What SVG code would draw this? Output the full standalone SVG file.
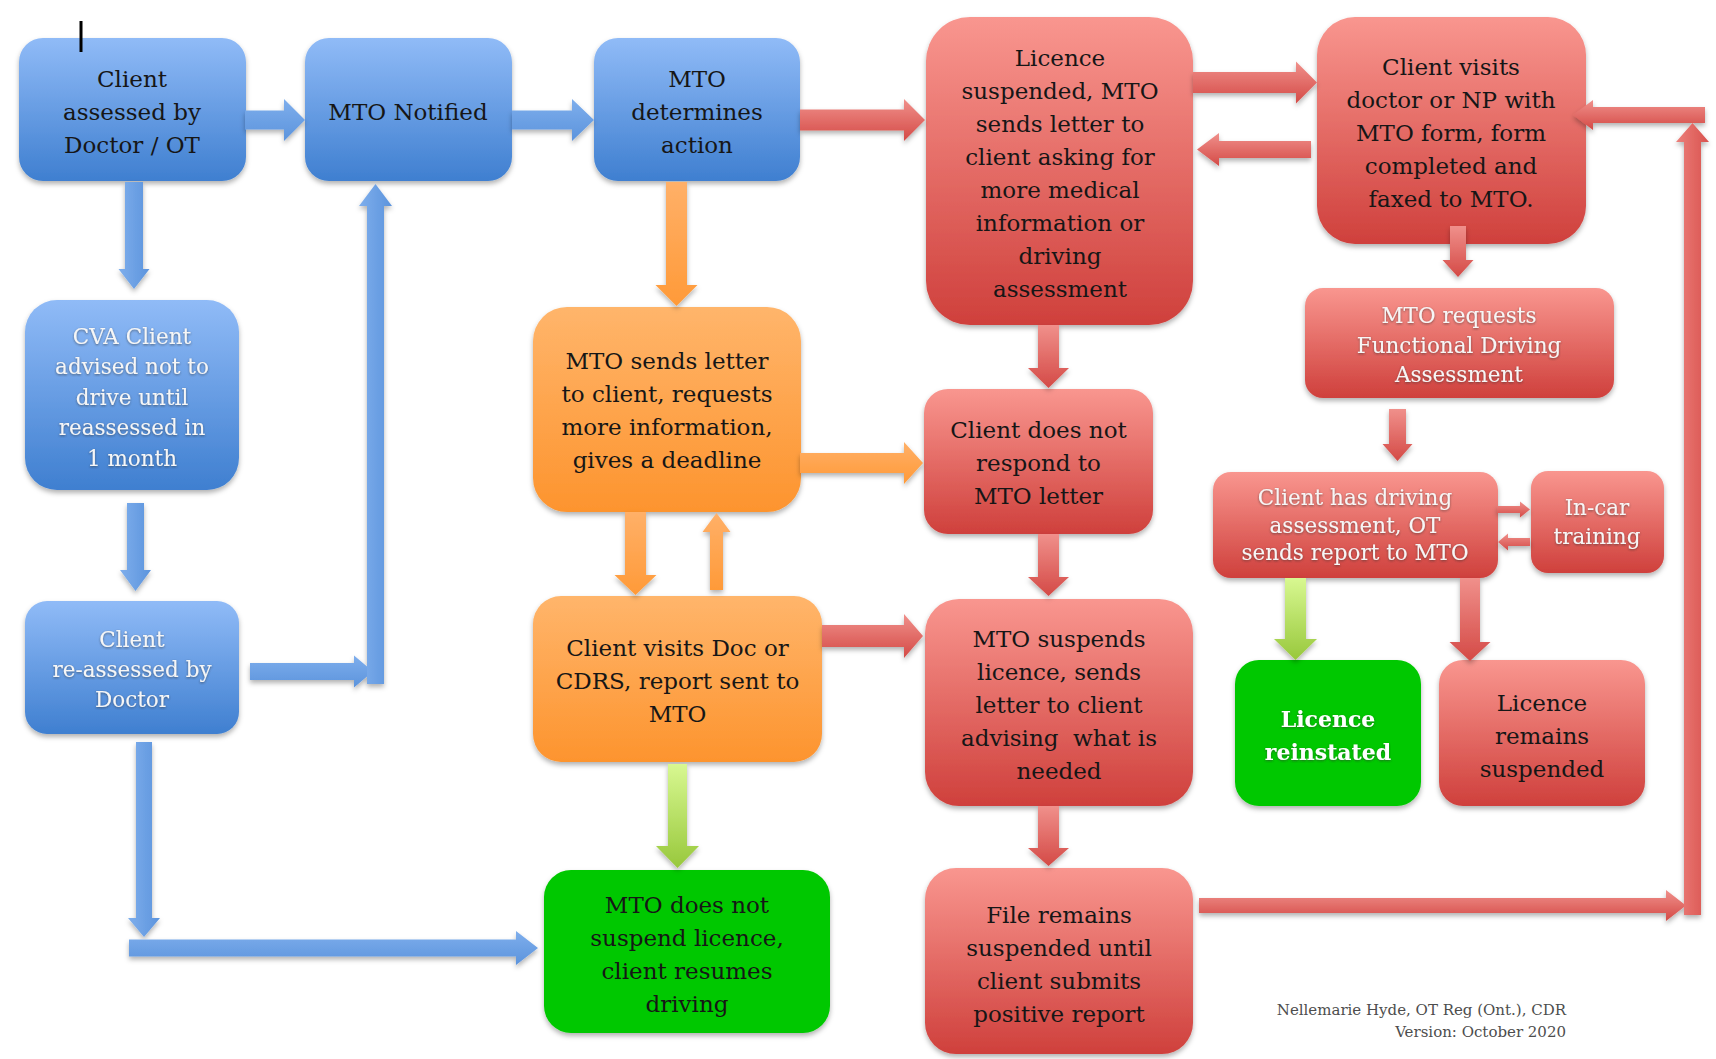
<svg xmlns="http://www.w3.org/2000/svg" width="1716" height="1059" viewBox="0 0 1716 1059">
<defs>
<linearGradient id="gBlue" x1="0" y1="0" x2="0" y2="1"><stop offset="0" stop-color="#90bbf7"/><stop offset="1" stop-color="#3f7fd0"/></linearGradient>
<linearGradient id="gRed" x1="0" y1="0" x2="0" y2="1"><stop offset="0" stop-color="#f9968f"/><stop offset="1" stop-color="#cf403c"/></linearGradient>
<linearGradient id="gOrange" x1="0" y1="0" x2="0" y2="1"><stop offset="0" stop-color="#ffb56b"/><stop offset="1" stop-color="#fd942e"/></linearGradient>
<linearGradient id="aBlue" x1="0" y1="0" x2="0" y2="1"><stop offset="0" stop-color="#7eaeec"/><stop offset="1" stop-color="#5c94dd"/></linearGradient>
<linearGradient id="aBlueV" x1="0" y1="0" x2="1" y2="0"><stop offset="0" stop-color="#7eaeec"/><stop offset="1" stop-color="#5c94dd"/></linearGradient>
<linearGradient id="aRed" x1="0" y1="0" x2="0" y2="1"><stop offset="0" stop-color="#f0908b"/><stop offset="1" stop-color="#d44a46"/></linearGradient>
<linearGradient id="aRedV" x1="0" y1="0" x2="1" y2="0"><stop offset="0" stop-color="#ec7f7a"/><stop offset="1" stop-color="#d9524e"/></linearGradient>
<linearGradient id="aOrange" x1="0" y1="0" x2="0" y2="1"><stop offset="0" stop-color="#ffb068"/><stop offset="1" stop-color="#ff9a38"/></linearGradient>
<linearGradient id="aGreen" x1="0" y1="0" x2="0" y2="1"><stop offset="0" stop-color="#d8f891"/><stop offset="1" stop-color="#98c83c"/></linearGradient>
<filter id="sh" x="-10%" y="-10%" width="120%" height="130%"><feDropShadow dx="0" dy="3" stdDeviation="2.5" flood-color="#000" flood-opacity="0.3"/></filter>
<filter id="tsh" x="-5%" y="-20%" width="110%" height="140%"><feDropShadow dx="0" dy="1" stdDeviation="0.8" flood-color="#333" flood-opacity="0.6"/></filter>
</defs>
<style>
text{font-family:"DejaVu Serif","Liberation Serif",serif;font-size:23px;text-anchor:middle;fill:#161616}
.lt{fill:#f6f6f6;font-size:21.5px}
.bd{fill:#ffffff;font-weight:bold;font-size:22px}
.blue{fill:url(#gBlue)}
.red{fill:url(#gRed)}
.orange{fill:url(#gOrange)}
.green{fill:#00c800}
.box{filter:url(#sh)}
.ab{fill:url(#aBlue)}
.abv{fill:url(#aBlueV)}
.ar{fill:url(#aRed)}
.arv{fill:url(#aRedV)}
.ao{fill:url(#aOrange)}
.ag{fill:url(#aGreen)}
.foot{font-size:15px;fill:#4d4d4d;text-anchor:end}
</style>
<rect width="1716" height="1059" fill="#ffffff"/>

<g id="n1"><rect class="box blue" x="19" y="38" width="227" height="143" rx="24"/><text x="132" y="87">Client</text><text x="132" y="120">assessed by</text><text x="132" y="153">Doctor / OT</text></g>
<g id="n2"><rect class="box blue" x="305" y="38" width="207" height="143" rx="24"/><text x="408" y="120">MTO Notified</text></g>
<g id="n3"><rect class="box blue" x="594" y="38" width="206" height="143" rx="24"/><text x="697" y="87">MTO</text><text x="697" y="120">determines</text><text x="697" y="153">action</text></g>
<g id="n4"><rect class="box red" x="926" y="17" width="267" height="308" rx="44"/><text x="1060" y="66">Licence</text><text x="1060" y="99">suspended, MTO</text><text x="1060" y="132">sends letter to</text><text x="1060" y="165">client asking for</text><text x="1060" y="198">more medical</text><text x="1060" y="231">information or</text><text x="1060" y="264">driving</text><text x="1060" y="297">assessment</text></g>
<g id="n5"><rect class="box red" x="1317" y="17" width="269" height="227" rx="38"/><text x="1451" y="75">Client visits</text><text x="1451" y="108">doctor or NP with</text><text x="1451" y="141">MTO form, form</text><text x="1451" y="174">completed and</text><text x="1451" y="207">faxed to MTO.</text></g>
<g id="n6"><rect class="box red" x="1305" y="288" width="309" height="110" rx="18"/><text class="lt" filter="url(#tsh)" x="1459" y="323">MTO requests</text><text class="lt" filter="url(#tsh)" x="1459" y="352.5">Functional Driving</text><text class="lt" filter="url(#tsh)" x="1459" y="382">Assessment</text></g>
<g id="n7"><rect class="box blue" x="25" y="300" width="214" height="190" rx="32"/><text class="lt" filter="url(#tsh)" x="132" y="343.5">CVA Client</text><text class="lt" filter="url(#tsh)" x="132" y="374">advised not to</text><text class="lt" filter="url(#tsh)" x="132" y="404.7">drive until</text><text class="lt" filter="url(#tsh)" x="132" y="435.4">reassessed in</text><text class="lt" filter="url(#tsh)" x="132" y="466">1 month</text></g>
<g id="n8"><rect class="box orange" x="533" y="307" width="268" height="205" rx="34"/><text x="667" y="368.5">MTO sends letter</text><text x="667" y="401.5">to client, requests</text><text x="667" y="434.5">more information,</text><text x="667" y="467.5">gives a deadline</text></g>
<g id="n9"><rect class="box red" x="924" y="389" width="229" height="145" rx="24"/><text x="1038.5" y="438">Client does not</text><text x="1038.5" y="471">respond to</text><text x="1038.5" y="504">MTO letter</text></g>
<g id="n10"><rect class="box red" x="1213" y="472" width="285" height="106" rx="18"/><text class="lt" filter="url(#tsh)" x="1355" y="505">Client has driving</text><text class="lt" filter="url(#tsh)" x="1355" y="532.5">assessment, OT</text><text class="lt" filter="url(#tsh)" x="1355" y="560">sends report to MTO</text></g>
<g id="n11"><rect class="box red" x="1531" y="471" width="133" height="102" rx="17"/><text class="lt" filter="url(#tsh)" x="1597" y="515">In-car</text><text class="lt" filter="url(#tsh)" x="1597" y="544">training</text></g>
<g id="n12"><rect class="box blue" x="25" y="601" width="214" height="133" rx="22"/><text class="lt" filter="url(#tsh)" x="132" y="647">Client</text><text class="lt" filter="url(#tsh)" x="132" y="677">re-assessed by</text><text class="lt" filter="url(#tsh)" x="132" y="706.5">Doctor</text></g>
<g id="n13"><rect class="box orange" x="533" y="596" width="289" height="166" rx="28"/><text x="677.5" y="656">Client visits Doc or</text><text x="677.5" y="689">CDRS, report sent to</text><text x="677.5" y="722">MTO</text></g>
<g id="n14"><rect class="box red" x="925" y="599" width="268" height="207" rx="34"/><text x="1059" y="647">MTO suspends</text><text x="1059" y="680">licence, sends</text><text x="1059" y="713">letter to client</text><text x="1059" y="746" xml:space="preserve">advising  what is</text><text x="1059" y="779">needed</text></g>
<g id="n15"><rect class="box green" x="544" y="870" width="286" height="163" rx="27"/><text x="687" y="912.5">MTO does not</text><text x="687" y="945.5">suspend licence,</text><text x="687" y="978.5">client resumes</text><text x="687" y="1011.5">driving</text></g>
<g id="n16"><rect class="box green" x="1235" y="660" width="186" height="146" rx="24"/><text class="bd" filter="url(#tsh)" x="1328" y="727">Licence</text><text class="bd" filter="url(#tsh)" x="1328" y="760">reinstated</text></g>
<g id="n17"><rect class="box red" x="1439" y="660" width="206" height="146" rx="24"/><text x="1542" y="711">Licence</text><text x="1542" y="744">remains</text><text x="1542" y="777">suspended</text></g>
<g id="n18"><rect class="box red" x="925" y="868" width="268" height="186" rx="31"/><text x="1059" y="922.5">File remains</text><text x="1059" y="955.5">suspended until</text><text x="1059" y="988.5">client submits</text><text x="1059" y="1021.5">positive report</text></g>

<g id="connectors" filter="url(#sh)">
<polygon class="ab" points="245,110.5 284,110.5 284,99 305,120 284,141 284,129.5 245,129.5"/>
<polygon class="ab" points="512,110.5 572,110.5 572,99 594,120 572,141 572,129.5 512,129.5"/>
<polygon class="abv" points="125,182 143,182 143,269 149.5,269 134,289 118.5,269 125,269"/>
<polygon class="abv" points="127,503 144,503 144,570 151,570 135.5,591 120,570 127,570"/>
<polygon class="ab" points="250,663 354,663 354,655.5 373,671.5 354,687.5 354,680 250,680"/>
<polygon class="abv" points="367,684 367,206 359,206 375.5,184 392,206 384,206 384,684"/>
<polygon class="abv" points="136,742 152,742 152,918 160,918 144,937 128,918 136,918"/>
<polygon class="ab" points="129,939.5 516,939.5 516,931 538,948 516,965 516,956.5 129,956.5"/>
<polygon class="ao" points="666,182 687,182 687,285 697.5,285 676.5,306 655.5,285 666,285"/>
<polygon class="ao" points="800,453 904,453 904,442 923,463 904,484 904,473 800,473"/>
<polygon class="ao" points="625,512 646,512 646,575 656.5,575 635.5,595 614.5,575 625,575"/>
<polygon class="ao" points="710,590 710,532 702.5,532 716.5,513 730.5,532 723,532 723,590"/>
<polygon class="ag" points="668,764 687,764 687,846 699,846 677.5,868 656,846 668,846"/>
<polygon class="ag" points="1285,578 1306,578 1306,639 1317,639 1295.5,660 1274,639 1285,639"/>
<polygon class="ar" points="800,109.5 904,109.5 904,99 925,120 904,141 904,130.5 800,130.5"/>
<polygon class="ar" points="1193,72 1296,72 1296,61.5 1317,82.5 1296,103.5 1296,93 1193,93"/>
<polygon class="ar" points="1311,141 1219,141 1219,133 1197,149.5 1219,166 1219,158 1311,158"/>
<polygon class="ar" points="1450,226 1466,226 1466,260 1473.5,260 1458,277 1442.5,260 1450,260"/>
<polygon class="ar" points="1389,409 1406,409 1406,444 1412.5,444 1397.5,461 1382.5,444 1389,444"/>
<polygon class="ar" points="1038,325 1059,325 1059,368 1069,368 1048.5,388 1028,368 1038,368"/>
<polygon class="ar" points="1497,506 1520,506 1520,501.5 1530,509.5 1520,517.5 1520,513 1497,513"/>
<polygon class="ar" points="1530,538 1508,538 1508,533.5 1498,542 1508,550.5 1508,546 1530,546"/>
<polygon class="ar" points="1038,534 1059,534 1059,577 1069,577 1048.5,596 1028,577 1038,577"/>
<polygon class="ar" points="822,625 904,625 904,614 923,636 904,658 904,647 822,647"/>
<polygon class="ar" points="1038,806 1059,806 1059,848 1069,848 1048.5,866 1028,848 1038,848"/>
<polygon class="ar" points="1460,578 1480,578 1480,642 1490.5,642 1470,661 1449.5,642 1460,642"/>
<polygon class="ar" points="1199,898 1666,898 1666,890 1686,905.5 1666,921 1666,913 1199,913"/>
<polygon class="arv" points="1684,915 1684,142 1676,142 1692.5,123 1709,142 1701,142 1701,915"/>
<polygon class="ar" points="1705,107 1593,107 1593,100 1573,115 1593,130 1593,123 1705,123"/>
</g>

<rect x="79.5" y="21" width="3" height="31" fill="#000000"/>

<text class="foot" x="1566" y="1015">Nellemarie Hyde, OT Reg (Ont.), CDR</text>
<text class="foot" x="1566" y="1037">Version: October 2020</text>
</svg>
